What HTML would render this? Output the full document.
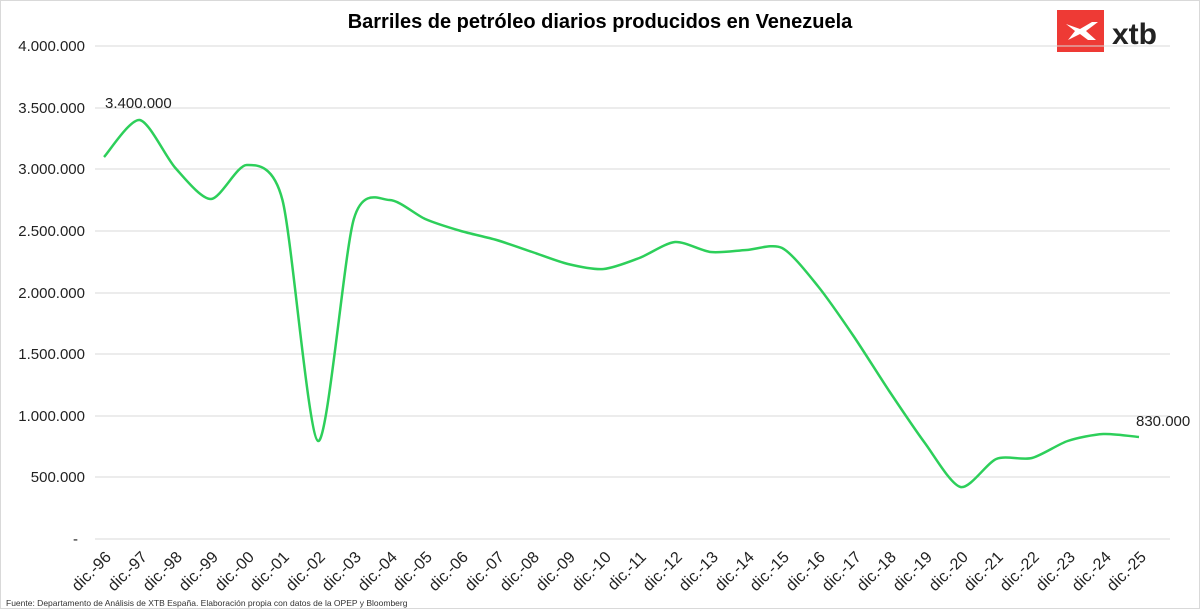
<!DOCTYPE html>
<html><head><meta charset="utf-8"><style>
html,body{margin:0;padding:0;background:#fff;}
svg{display:block;font-family:"Liberation Sans",sans-serif;}
</style></head><body>
<svg width="1200" height="609" viewBox="0 0 1200 609">
<rect x="0.5" y="0.5" width="1199" height="608" fill="#fff" stroke="#d9d9d9"/>
<text x="600" y="28" text-anchor="middle" font-size="20" font-weight="bold" fill="#000">Barriles de petróleo diarios producidos en Venezuela</text>
<rect x="1057" y="10" width="47" height="42" fill="#ee3a35"/>
<path d="M1066 24 L1080 29 L1092 22 L1098 22 L1086 31 L1096 40 L1088 40 L1080 34 L1068 40 L1075 31 Z" fill="#fff"/>
<text x="1112" y="44" font-size="30" fill="#222" font-weight="bold">xtb</text>
<g stroke="#d9d9d9" stroke-width="1">
<line x1="95" x2="1170" y1="46" y2="46"/><line x1="95" x2="1170" y1="108" y2="108"/>
<line x1="95" x2="1170" y1="169" y2="169"/><line x1="95" x2="1170" y1="231" y2="231"/>
<line x1="95" x2="1170" y1="293" y2="293"/><line x1="95" x2="1170" y1="354" y2="354"/>
<line x1="95" x2="1170" y1="416" y2="416"/><line x1="95" x2="1170" y1="477" y2="477"/>
<line x1="95" x2="1170" y1="539" y2="539"/>
</g>
<g font-size="15" fill="#222" text-anchor="end">
<text x="85" y="51">4.000.000</text><text x="85" y="113">3.500.000</text>
<text x="85" y="174">3.000.000</text><text x="85" y="236">2.500.000</text>
<text x="85" y="298">2.000.000</text><text x="85" y="359">1.500.000</text>
<text x="85" y="421">1.000.000</text><text x="85" y="482">500.000</text>
<text x="78" y="544">-</text>
</g>
<path id="ln" fill="none" stroke="#2dcf5a" stroke-width="2.5"/>
<text x="105" y="108" font-size="15" fill="#222">3.400.000</text>
<text x="1136" y="426" font-size="15" fill="#222">830.000</text>
<g font-size="16" fill="#222" text-anchor="end">
<text transform="translate(112,558) rotate(-45)">dic.-96</text>
<text transform="translate(148,558) rotate(-45)">dic.-97</text>
<text transform="translate(183,558) rotate(-45)">dic.-98</text>
<text transform="translate(219,558) rotate(-45)">dic.-99</text>
<text transform="translate(255,558) rotate(-45)">dic.-00</text>
<text transform="translate(290,558) rotate(-45)">dic.-01</text>
<text transform="translate(326,558) rotate(-45)">dic.-02</text>
<text transform="translate(362,558) rotate(-45)">dic.-03</text>
<text transform="translate(398,558) rotate(-45)">dic.-04</text>
<text transform="translate(433,558) rotate(-45)">dic.-05</text>
<text transform="translate(469,558) rotate(-45)">dic.-06</text>
<text transform="translate(505,558) rotate(-45)">dic.-07</text>
<text transform="translate(540,558) rotate(-45)">dic.-08</text>
<text transform="translate(576,558) rotate(-45)">dic.-09</text>
<text transform="translate(612,558) rotate(-45)">dic.-10</text>
<text transform="translate(647,558) rotate(-45)">dic.-11</text>
<text transform="translate(683,558) rotate(-45)">dic.-12</text>
<text transform="translate(719,558) rotate(-45)">dic.-13</text>
<text transform="translate(755,558) rotate(-45)">dic.-14</text>
<text transform="translate(790,558) rotate(-45)">dic.-15</text>
<text transform="translate(826,558) rotate(-45)">dic.-16</text>
<text transform="translate(862,558) rotate(-45)">dic.-17</text>
<text transform="translate(897,558) rotate(-45)">dic.-18</text>
<text transform="translate(933,558) rotate(-45)">dic.-19</text>
<text transform="translate(969,558) rotate(-45)">dic.-20</text>
<text transform="translate(1004,558) rotate(-45)">dic.-21</text>
<text transform="translate(1040,558) rotate(-45)">dic.-22</text>
<text transform="translate(1076,558) rotate(-45)">dic.-23</text>
<text transform="translate(1112,558) rotate(-45)">dic.-24</text>
<text transform="translate(1147,558) rotate(-45)">dic.-25</text>
</g>
<text x="6" y="606" font-size="8.5" fill="#333">Fuente: Departamento de Análisis de XTB España. Elaboración propia con datos de la OPEP y Bloomberg</text>
</svg>
<script>
var y=[157,120,168,199,165,200,441,219,200,219,231,240,252,264,269,258,242,252,250,248,286,336,391,443,487,459,458,441,434,437];
var p=y.map(function(v,i){return [104+i*35.69,v];});
var d="M"+p[0][0]+" "+p[0][1];
var k=7.5;
for(var i=0;i<p.length-1;i++){var a=p[i-1]||p[i],b=p[i],c=p[i+1],e=p[i+2]||c;
d+=" C"+(b[0]+(c[0]-a[0])/k)+" "+(b[1]+(c[1]-a[1])/k)+" "+(c[0]-(e[0]-b[0])/k)+" "+(c[1]-(e[1]-b[1])/k)+" "+c[0]+" "+c[1];}
document.getElementById("ln").setAttribute("d",d);
</script>
</body></html>
